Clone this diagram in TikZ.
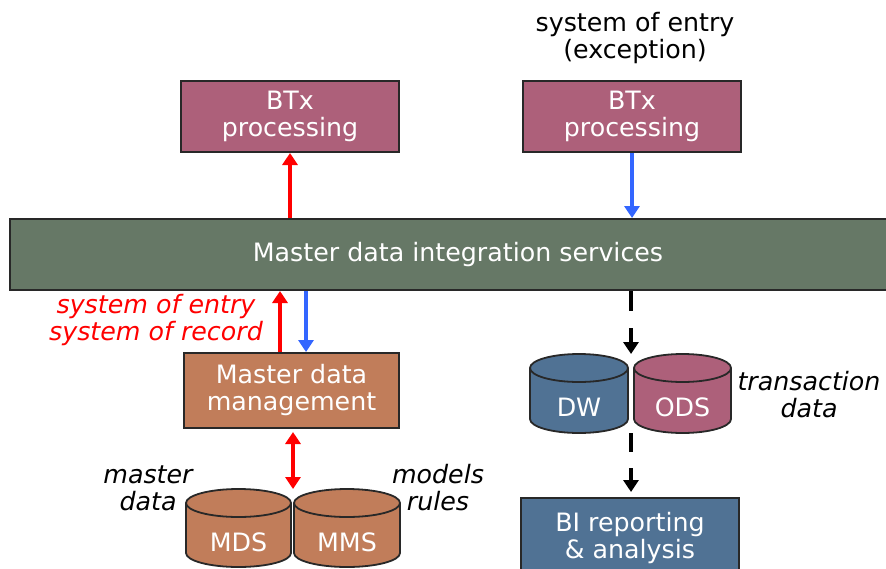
\documentclass[tikz,border=0pt]{standalone}
\usepackage{fontspec}
\setmainfont{DejaVu Sans}
\usetikzlibrary{arrows.meta}
\definecolor{btxc}{RGB}{173,96,122}
\definecolor{barc}{RGB}{102,120,102}
\definecolor{mdmc}{RGB}{193,125,90}
\definecolor{dwc}{RGB}{80,114,148}
\definecolor{bluearr}{RGB}{51,102,255}
\definecolor{edgec}{RGB}{40,40,40}
\newcommand\dfont{\fontsize{25.3}{27}\selectfont}
% #1 name, #2 centre x, #3 half width, #4 top y, #5 bottom y, #6 fill, #7 text
\newcommand\dbcyl[7]{%
  \filldraw[cylline, fill=#6] ({#2-#3},{-#4-14}) -- ({#2-#3},{-#5+14})
    arc[start angle=180,end angle=360,x radius=#3,y radius=14]
    -- ({#2+#3},{-#4-14})
    arc[start angle=0,end angle=180,x radius=#3,y radius=14] -- cycle;
  \draw[cylline] ({#2-#3},{-#4-14}) arc[start angle=180,end angle=360,x radius=#3,y radius=14];
  \node[ghost, minimum width={2*#3}, minimum height={#5-#4}] (#1) at (#2,{-(#4+#5)/2}) {};
  \node[cyltext] (#1-t) at (#2,{-(#4+28+#5)/2}) {#7};
}
\begin{document}
\begin{tikzpicture}[x=1pt,y=1pt,
  box/.style={draw=edgec, line width=2pt, text=white, align=center, inner sep=0pt, font=\dfont},
  cylline/.style={draw=edgec, line width=1.8pt},
  ghost/.style={inner sep=0pt, outer sep=0pt},
  cyltext/.style={text=white, font=\dfont, inner sep=0pt},
  lab/.style={align=center, font=\dfont, inner sep=0pt},
  ilab/.style={align=center, font=\dfont\itshape, inner sep=0pt},
  tip/.tip={Triangle[width=15pt,length=12pt]},
  redarr/.style={draw=red, line width=4.5pt, -tip},
  bluearr/.style={draw=bluearr, line width=4.5pt, -tip},
  redboth/.style={draw=red, line width=4.5pt, tip-tip},
  dasharr/.style={draw=black, line width=4.5pt, -tip, dash pattern=on 20pt off 17pt}
]
\useasboundingbox (0,0) rectangle (886,-568);
\fill[white] (0,0) rectangle (886,-568);

% boxes
\node[box, fill=btxc, minimum width=218, minimum height=71] (btx1) at (290,-116.5) {BTx\\processing};
\node[box, fill=btxc, minimum width=218, minimum height=71] (btx2) at (632,-116.5) {BTx\\processing};
\node[box, fill=barc, minimum width=896, minimum height=71] (bar) at (458,-254.5) {Master data integration services};
\node[box, fill=mdmc, minimum width=215, minimum height=75] (mdm) at (291.5,-390.5) {Master data\\management};
\node[box, fill=dwc, minimum width=218, minimum height=80, anchor=north] (bi) at (630,-497) {BI reporting\\\&\ analysis};

% databases
\dbcyl{mds}{238.5}{52.5}{489}{567}{mdmc}{MDS}
\dbcyl{mms}{347}{53}{489}{567}{mdmc}{MMS}
\dbcyl{dw}{579}{49}{354}{433}{dwc}{DW}
\dbcyl{ods}{682.5}{48.5}{354}{433}{btxc}{ODS}
\coordinate (dbj) at (631,-393);

% labels
\node[lab] (exc) at (635,-38) {system of entry\\(exception)};
\node[ilab, text=red] (soe) at (156,-320) {system of entry\\system of record};
\node[ilab] (mdat) at (148,-488) {master\\data};
\node[ilab] (mrul) at (438,-488) {models\\rules};
\node[ilab] (tdat) at (809,-395) {transaction\\data};

% connectors
\draw[redarr] (btx1.south |- bar.north) -- (btx1.south);
\draw[bluearr] (btx2.south) -- (btx2.south |- bar.north);
\draw[redarr] ([xshift=-11.5pt]mdm.north) -- ([xshift=-11.5pt]mdm.north |- bar.south);
\draw[bluearr] ([xshift=14.5pt]mdm.north |- bar.south) -- ([xshift=14.5pt]mdm.north);
\draw[redboth, shorten <=3pt] ([xshift=1.5pt]mdm.south) -- ([xshift=1.5pt]mdm.south |- mds.north);
\draw[dasharr] (dbj |- bar.south) -- (dbj |- dw.north);
\draw[dasharr, dash pattern=on 19pt off 16pt, shorten >=5pt] (dbj |- dw.south) -- (dbj |- bi.north);
\end{tikzpicture}
\end{document}
